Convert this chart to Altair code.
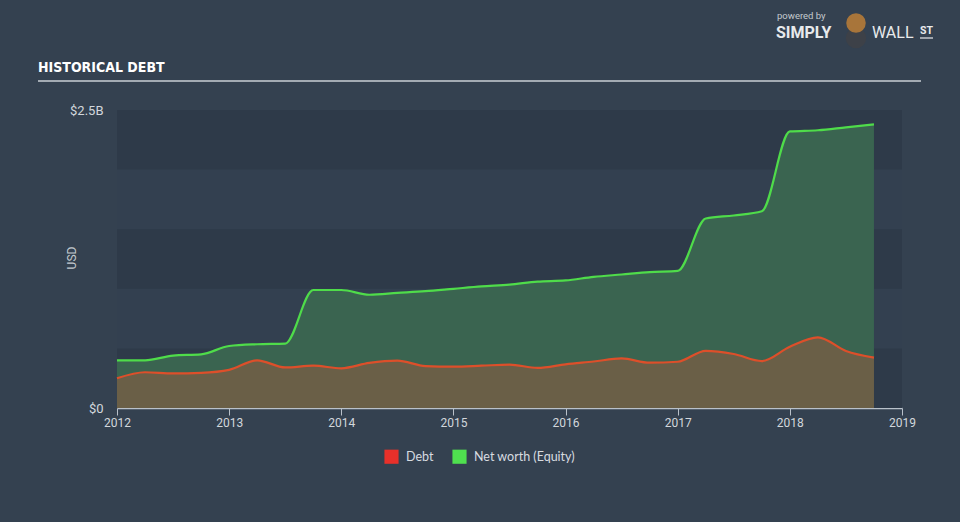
import altair as alt
import pandas as pd

# ---- data (values in billions USD) ----
years = [2012.0, 2012.25, 2012.5, 2012.75, 2013.0, 2013.25, 2013.5, 2013.75,
         2014.0, 2014.25, 2014.5, 2014.75, 2015.0, 2015.25, 2015.5, 2015.75,
         2016.0, 2016.25, 2016.5, 2016.75, 2017.0, 2017.25, 2017.5, 2017.75,
         2018.0, 2018.25, 2018.5, 2018.75]
equity = [0.40, 0.40, 0.44, 0.45, 0.52, 0.535, 0.54, 0.99,
          0.99, 0.95, 0.965, 0.98, 1.00, 1.02, 1.035, 1.06,
          1.07, 1.10, 1.12, 1.14, 1.15, 1.59, 1.615, 1.65,
          2.32, 2.33, 2.355, 2.38]
debt = [0.25, 0.30, 0.29, 0.295, 0.32, 0.40, 0.34, 0.355,
        0.333, 0.378, 0.397, 0.352, 0.347, 0.355, 0.364, 0.336,
        0.366, 0.39, 0.416, 0.38, 0.388, 0.48, 0.453, 0.394,
        0.514, 0.593, 0.478, 0.422]
series_names = ["Debt", "Net worth (Equity)"]
series_colors = ["#e8302a", "#4fe04f"]
x_ticks = [2012, 2013, 2014, 2015, 2016, 2017, 2018, 2019]
y_ticks = [0, 2.5]
band_lo = [0.0, 1.0, 2.0]
band_hi = [0.5, 1.5, 2.5]

df = pd.DataFrame({"year": years, "equity": equity, "debt": debt})
bands = pd.DataFrame({"lo": band_lo, "hi": band_hi})
legend_df = pd.DataFrame({"series": series_names, "year": [2012, 2012], "v": [0, 0]})

W, H = 785, 298
xs = alt.Scale(domain=[2012, 2019], nice=False, zero=False)
ys = alt.Scale(domain=[0, 2.5], nice=False)

xenc = alt.X("year:Q", scale=xs, axis=alt.Axis(
    values=x_ticks, format="d", title=None, grid=False,
    labelFlush=False, labelOverlap=False, labelBound=False,
    domainColor="#b9c1ca", domainWidth=1.5, tickColor="#b9c1ca", tickSize=7,
    labelColor="#d2d7dc", labelFontSize=12, labelFont="Roboto", labelPadding=2))

bg = alt.Chart(bands).mark_rect(color="#2e3a49").encode(
    x=alt.value(0), x2=alt.value(W),
    y=alt.Y("lo:Q", scale=ys, axis=alt.Axis(
        values=y_ticks, title=None, grid=False, domain=False, ticks=False,
        labelFlush=False, labelOverlap=False,
        labelExpr="datum.value == 0 ? '$0' : '$' + datum.value + 'B'",
        labelColor="#d2d7dc", labelFontSize=13, labelFont="Roboto", labelPadding=14)),
    y2="hi:Q")

base = alt.Chart(df)
eq_area = base.mark_area(color="#3a6450", interpolate="monotone").encode(
    x=xenc, y=alt.Y("equity:Q", scale=ys))
debt_area = base.mark_area(color="#6a5f47", interpolate="monotone").encode(
    x="year:Q", y=alt.Y("debt:Q", scale=ys))
eq_line = base.mark_line(color="#4fdc4a", strokeWidth=2.2, interpolate="monotone").encode(
    x="year:Q", y=alt.Y("equity:Q", scale=ys))
debt_line = base.mark_line(color="#dd4f2a", strokeWidth=2.2, interpolate="monotone").encode(
    x="year:Q", y=alt.Y("debt:Q", scale=ys))

legend_layer = alt.Chart(legend_df).mark_square(opacity=0, size=1).encode(
    x="year:Q", y=alt.Y("v:Q", scale=ys),
    color=alt.Color("series:N", scale=alt.Scale(domain=series_names, range=series_colors),
                    legend=alt.Legend(orient="none", legendX=267, legendY=339,
                                      direction="horizontal", title=None,
                                      symbolType="square", symbolSize=200,
                                      symbolOpacity=1, symbolStrokeWidth=0,
                                      labelColor="#d8dce0", labelFontSize=12.5,
                                      labelFont="Lato", labelOffset=7,
                                      columnPadding=18)))

def txt(t, x, y, size, color, weight="normal", font="Roboto", align="left", angle=0):
    return alt.Chart(pd.DataFrame({"t": [t]})).mark_text(
        align=align, baseline="middle", fontSize=size, color=color,
        fontWeight=weight, font=font, angle=angle).encode(
        x=alt.value(x), y=alt.value(y), text="t:N")

usd = txt("USD", -45, 148, 12, "#c3c9cf", align="center", angle=270)
title = txt("HISTORICAL DEBT", -79, -42, 14, "#ffffff", "bold",
            "Liberation Sans Narrow, DejaVu Sans Condensed")
title_rule = alt.Chart(pd.DataFrame({"a": [0]})).mark_rule(color="#a3abb3", strokeWidth=2).encode(
    x=alt.value(-79), x2=alt.value(804), y=alt.value(-29))
powered = txt("powered by", 660, -94, 9.5, "#c4c9ce", font="Roboto")
simply = txt("SIMPLY", 659, -77, 16, "#e8eaec", "bold", "Roboto")
wall = txt("WALL", 755, -77, 16, "#e8eaec", "normal", "Roboto")
st = txt("ST", 803, -79, 10.5, "#e8eaec", "bold", "Roboto")
st_rule = alt.Chart(pd.DataFrame({"a": [0]})).mark_rule(color="#e8eaec", strokeWidth=1.2).encode(
    x=alt.value(803), x2=alt.value(816), y=alt.value(-72))
bull_body = alt.Chart(pd.DataFrame({"a": [0]})).mark_point(
    filled=True, shape="circle", size=420, color="#3d4148", opacity=1).encode(
    x=alt.value(739), y=alt.value(-72))
bull = alt.Chart(pd.DataFrame({"a": [0]})).mark_point(
    filled=True, shape="circle", size=380, color="#a8753a", opacity=1).encode(
    x=alt.value(739), y=alt.value(-87))

chart = alt.layer(
    bg, eq_area, debt_area, eq_line, debt_line, legend_layer,
    usd, title, title_rule, powered, simply, wall, st, st_rule, bull_body, bull
).properties(
    width=W, height=H, background="#344150",
    padding={"left": 117, "top": 110, "right": 58, "bottom": 114},
    autosize=alt.AutoSizeParams(type="none")
).configure_view(stroke=None, fill="#334050")

chart.save("out.html", embed_options={"renderer": "svg", "actions": False})
